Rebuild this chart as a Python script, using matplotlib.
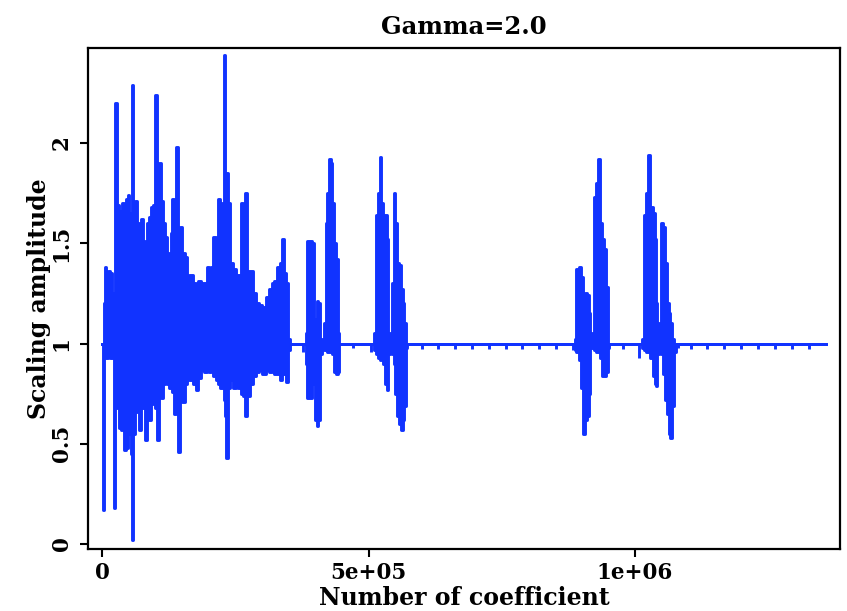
"""
Scaling amplitude per coefficient, Gamma = 2.0
"""

#%%
import matplotlib.pyplot as plt

plt.rcParams['font.family'] = 'DejaVu Serif'
plt.rcParams['font.weight'] = 'bold'

#%%

#Envelope of the trace: coefficient (thousands), upper and lower amplitude

coef_k = [0, 2, 4, 6, 9, 13, 17, 21, 24, 26, 30, 34, 36, 39, 43, 47, 49, 53, 56, 58,
          60, 64, 68, 71, 75, 79, 83, 86, 90, 94, 98, 101, 105, 109, 113, 116, 120, 124, 128, 131,
          133, 137, 141, 144, 148, 152, 158, 161, 167, 173, 178, 184, 189, 195, 199, 203, 206, 212, 216, 219,
          223, 227, 229, 231, 235, 238, 244, 248, 253, 257, 263, 266, 270, 274, 280, 285, 291, 298, 304, 310,
          315, 321, 326, 332, 336, 340, 343, 347, 351, 355,
          381, 385, 386, 392, 396, 398, 401, 405, 407, 411, 415,
          418, 422, 424, 428, 430, 433, 437, 441, 443, 447,
          508, 512, 516, 520, 522, 525, 529, 533, 535, 538, 542,
          546, 548, 552, 555, 559, 563, 567, 568, 572, 574,
          887, 889, 891, 897, 901, 904, 908, 912, 914, 917,
          921, 925, 929, 932, 936, 940, 944, 947, 951, 953,
          1013, 1015, 1019, 1022, 1026, 1030, 1036, 1039, 1041, 1043,
          1047, 1051, 1054, 1058, 1062, 1066, 1067, 1071, 1075, 1077, 1358]

upper = [1.00, 1.00, 1.20, 1.38, 1.30, 1.36, 1.35, 1.20, 1.25, 2.20, 1.69, 1.66, 1.55, 1.70, 1.65, 1.72, 1.74, 1.65, 1.60, 2.29,
         1.70, 1.71, 1.58, 1.60, 1.62, 1.51, 1.50, 1.60, 1.63, 1.68, 1.69, 2.24, 1.80, 1.90, 1.71, 1.60, 1.53, 1.45, 1.43, 1.55,
         1.72, 1.50, 1.98, 1.50, 1.58, 1.45, 1.43, 1.33, 1.34, 1.30, 1.28, 1.31, 1.30, 1.30, 1.38, 1.30, 1.38, 1.53, 1.30, 1.72,
         1.70, 1.68, 2.44, 1.70, 1.85, 1.70, 1.40, 1.37, 1.34, 1.34, 1.70, 1.36, 1.75, 1.36, 1.36, 1.25, 1.20, 1.19, 1.18, 1.23,
         1.27, 1.30, 1.31, 1.38, 1.40, 1.52, 1.35, 1.30, 1.02, 1.00,
         1.00, 1.05, 1.51, 1.51, 1.50, 1.05, 1.12, 1.21, 1.20, 1.02, 1.00,
         1.10, 1.60, 1.75, 1.92, 1.90, 1.70, 1.50, 1.42, 1.05, 1.00,
         1.00, 1.05, 1.64, 1.75, 1.93, 1.70, 1.64, 1.64, 1.52, 1.05, 1.00,
         1.30, 1.75, 1.60, 1.40, 1.39, 1.27, 1.20, 1.10, 1.00, 1.00,
         1.00, 1.02, 1.37, 1.38, 1.33, 1.15, 1.25, 1.24, 1.15, 1.00,
         1.05, 1.73, 1.80, 1.92, 1.60, 1.52, 1.47, 1.28, 1.00, 1.00,
         1.00, 1.02, 1.64, 1.75, 1.94, 1.68, 1.65, 1.52, 1.20, 1.05,
         1.10, 1.60, 1.58, 1.40, 1.20, 1.15, 1.10, 1.02, 1.00, 1.00, 1.00]

lower = [1.00, 0.17, 0.95, 0.93, 0.93, 0.94, 0.93, 0.93, 0.18, 0.70, 0.68, 0.58, 0.57, 0.65, 0.47, 0.48, 0.60, 0.55, 0.45, 0.02,
         0.55, 0.69, 0.66, 0.57, 0.68, 0.68, 0.52, 0.70, 0.62, 0.70, 0.72, 0.68, 0.52, 0.75, 0.73, 0.80, 0.82, 0.80, 0.78, 0.78,
         0.76, 0.65, 0.68, 0.46, 0.72, 0.71, 0.80, 0.85, 0.82, 0.80, 0.77, 0.83, 0.87, 0.86, 0.87, 0.86, 0.87, 0.84, 0.82, 0.80,
         0.78, 0.78, 0.72, 0.64, 0.43, 0.78, 0.82, 0.78, 0.82, 0.78, 0.75, 0.74, 0.64, 0.74, 0.80, 0.84, 0.86, 0.87, 0.85, 0.87,
         0.86, 0.88, 0.85, 0.85, 0.82, 0.85, 0.85, 0.81, 0.97, 1.00,
         1.00, 0.90, 0.73, 0.73, 0.85, 0.80, 0.62, 0.59, 0.62, 0.95, 0.98,
         0.97, 0.97, 0.96, 0.96, 0.97, 0.95, 0.86, 0.85, 0.86, 1.00,
         1.00, 0.97, 0.95, 0.93, 0.92, 0.95, 0.90, 0.80, 0.77, 0.95, 0.98,
         0.95, 0.90, 0.75, 0.64, 0.60, 0.57, 0.62, 0.69, 0.98, 1.00,
         1.00, 0.97, 0.96, 0.92, 0.78, 0.55, 0.62, 0.64, 0.75, 0.98,
         0.98, 0.97, 0.96, 0.96, 0.93, 0.84, 0.84, 0.86, 0.98, 1.00,
         1.00, 0.98, 0.97, 0.96, 0.96, 0.93, 0.84, 0.80, 0.79, 0.95,
         0.97, 0.95, 0.85, 0.72, 0.65, 0.55, 0.53, 0.69, 0.96, 1.00, 1.00]

#Small dips below the flat part of the trace

dip_k = [377, 471, 505, 600, 630, 662, 694, 726, 758, 788, 820, 852, 884,
         977, 1007, 1081, 1105, 1135, 1167, 1199, 1231, 1263, 1295, 1326]
dip_lo = [0.96, 0.98, 0.96, 0.975, 0.975, 0.975, 0.975, 0.975, 0.975, 0.975, 0.975, 0.975, 0.97,
          0.975, 0.93, 0.98, 0.975, 0.975, 0.975, 0.975, 0.975, 0.975, 0.975, 0.975]

xtick_vals = [0, 5e5, 1e6]
xtick_labels = ['0', '5e+05', '1e+06']
ytick_vals = [0, 0.5, 1, 1.5, 2]
ytick_labels = ['0', '0.5', '1', '1.5', '2']

#%%

blue = '#1133ff'
coef = [k * 1000 for k in coef_k]
dips = [k * 1000 for k in dip_k]

fig = plt.figure(figsize=(8.47, 6.11), dpi=100)
ax = fig.add_axes([88/847, 1 - 549/611, (840 - 88)/847, (549 - 48)/611])

ax.fill_between(coef, lower, upper, color=blue, lw=0, step='mid')
ax.plot(coef, upper, color=blue, lw=2.1, drawstyle='steps-mid')
ax.plot(coef, lower, color=blue, lw=2.1, drawstyle='steps-mid')
ax.vlines(dips, dip_lo, 1.0, color=blue, lw=2.1)

ax.set_xlim(-26300, 1.3846e6)
ax.set_ylim(-0.025, 2.474)

ax.set_xticks(xtick_vals, xtick_labels)
ax.set_yticks(ytick_vals, ytick_labels)
ax.tick_params(axis='both', length=6, width=1.5, labelsize=15.5, pad=3.5)
ax.tick_params(axis='y', labelrotation=90, pad=5)
for lab in ax.get_yticklabels():
    lab.set_va('center')

for sp in ax.spines.values():
    sp.set_linewidth(1.6)

ax.set_title('Gamma=2.0', fontsize=17.5, fontweight='bold', pad=10)
ax.set_xlabel('Number of coefficient', fontsize=17, fontweight='bold', labelpad=1)
ax.set_ylabel('Scaling amplitude', fontsize=17, fontweight='bold', labelpad=0)

fig.savefig('out.png', dpi=100)
